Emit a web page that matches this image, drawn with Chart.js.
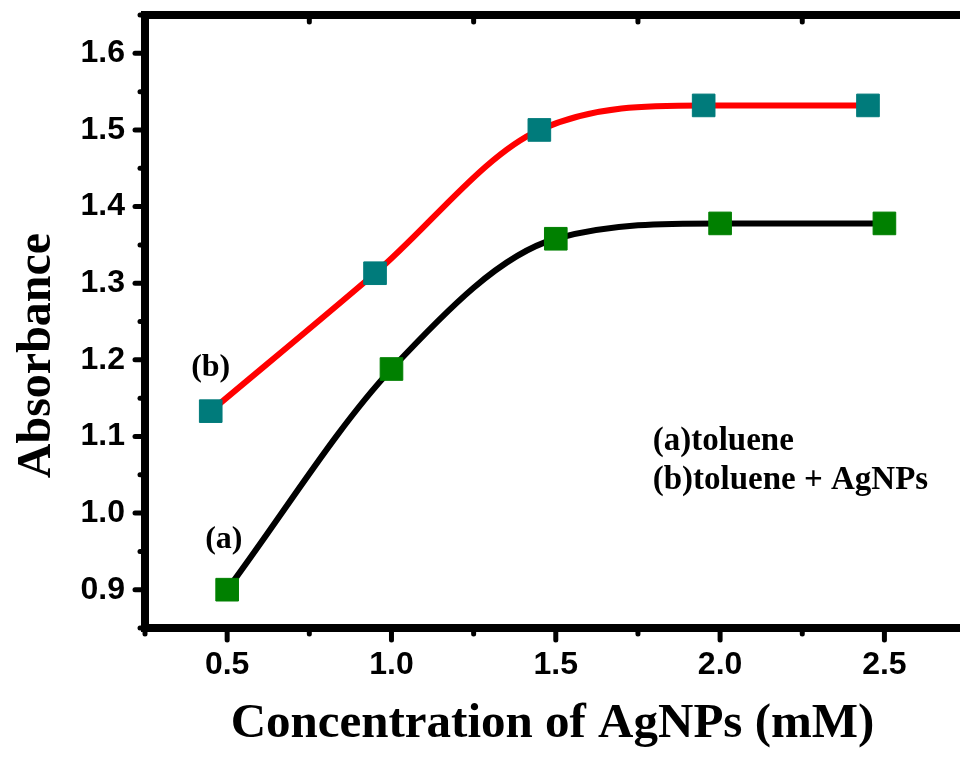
<!DOCTYPE html>
<html>
<head>
<meta charset="utf-8">
<script src="https://cdn.jsdelivr.net/npm/chart.js@4.4.1/dist/chart.umd.min.js"></script>
<style>
	html, body { margin: 0; padding: 0; background: #fff; overflow: hidden; }
	#chart { display: block; }
</style>
</head>
<body>
<canvas id="chart" width="960" height="758"></canvas>
<script>
// ── Data ────────────────────────────────────────────────────────────────────

const concToluene = [0.5, 1.0, 1.5, 2.0, 2.5]
const absToluene = [0.9, 1.188, 1.358, 1.378, 1.378]
const concAgNPs = [0.45, 0.95, 1.45, 1.95, 2.45]
const absAgNPs = [1.133, 1.313, 1.5, 1.532, 1.532]

const xMajorTicks = [0.5, 1.0, 1.5, 2.0, 2.5]
const xMinorTicks = [0.25, 0.75, 1.25, 1.75, 2.25]
const yMajorTicks = [0.9, 1.0, 1.1, 1.2, 1.3, 1.4, 1.5, 1.6]
const yMinorTicks = [0.85, 0.95, 1.05, 1.15, 1.25, 1.35, 1.45, 1.55, 1.65]

const legendLines = ['(a)toluene', '(b)toluene + AgNPs']

const SERIF = "'Liberation Serif', 'Times New Roman', serif"
const SANS = "'Liberation Sans', Arial, sans-serif"

// ── Frame, ticks and labels ────────────────────────────────────────────────

const framePlugin = {
	id: 'frame',
	afterDraw(chart) {
		const { ctx, chartArea: a, scales } = chart
		const x = scales.x
		const y = scales.y
		ctx.save()
		ctx.strokeStyle = '#000'

		// top border line (the right edge of the frame is cut off in the picture)
		ctx.lineWidth = 8
		ctx.lineCap = 'butt'
		ctx.beginPath()
		ctx.moveTo(a.left - 4, a.top)
		ctx.lineTo(a.right, a.top)
		ctx.stroke()

		ctx.lineWidth = 5
		ctx.lineCap = 'round'
		const tick = (x1, y1, x2, y2) => {
			ctx.beginPath()
			ctx.moveTo(x1, y1)
			ctx.lineTo(x2, y2)
			ctx.stroke()
		}
		xMajorTicks.forEach(v => {
			const px = x.getPixelForValue(v)
			tick(px, a.bottom, px, a.bottom + 12)
		})
		xMinorTicks.forEach(v => {
			const px = x.getPixelForValue(v)
			tick(px, a.bottom, px, a.bottom + 6)
			tick(px, a.top, px, a.top + 7)
		})
		yMajorTicks.forEach(v => {
			const py = y.getPixelForValue(v)
			tick(a.left, py, a.left - 10, py)
		})
		yMinorTicks.forEach(v => {
			const py = y.getPixelForValue(v)
			tick(a.left, py, a.left - 5, py)
		})

		// y axis title
		ctx.fillStyle = '#000'
		ctx.save()
		ctx.translate(50, (a.top + a.bottom) / 2 + 34)
		ctx.rotate(-Math.PI / 2)
		ctx.font = `bold 48px ${SERIF}`
		ctx.textAlign = 'center'
		ctx.textBaseline = 'alphabetic'
		ctx.fillText('Absorbance', 0, 0)
		ctx.restore()

		// curve labels
		ctx.font = `bold 32px ${SERIF}`
		ctx.textAlign = 'center'
		ctx.textBaseline = 'middle'
		ctx.fillText('(b)', x.getPixelForValue(0.45), y.getPixelForValue(1.19))
		ctx.fillText('(a)', x.getPixelForValue(0.49), y.getPixelForValue(0.965))

		// legend text
		ctx.font = `bold 33px ${SERIF}`
		ctx.textAlign = 'left'
		ctx.textBaseline = 'alphabetic'
		legendLines.forEach((t, i) => {
			ctx.fillText(t, x.getPixelForValue(1.795), 450 + i * 39)
		})
		ctx.restore()
	},
}

// ── Chart ───────────────────────────────────────────────────────────────────

const ctx = document.getElementById('chart').getContext('2d')
const chart = new Chart(ctx, {
	type: 'line',
	data: {
		datasets: [
			{
				label: '(a) toluene',
				data: concToluene.map((c, i) => ({ x: c, y: absToluene[i] })),
				borderColor: '#000000',
				borderWidth: 6,
				cubicInterpolationMode: 'monotone',
				pointStyle: 'rect',
				pointRadius: 16,
				pointHoverRadius: 16,
				pointBackgroundColor: '#008000',
				pointBorderColor: '#008000',
				pointBorderWidth: 1,
			},
			{
				label: '(b) toluene + AgNPs',
				data: concAgNPs.map((c, i) => ({ x: c, y: absAgNPs[i] })),
				borderColor: '#ff0000',
				borderWidth: 6,
				cubicInterpolationMode: 'monotone',
				pointStyle: 'rect',
				pointRadius: 16,
				pointHoverRadius: 16,
				pointBackgroundColor: '#007b7b',
				pointBorderColor: '#007b7b',
				pointBorderWidth: 1,
			},
		],
	},
	options: {
		responsive: false,
		animation: false,
		// no automatic padding for the big markers: the frame runs off the right edge
		layout: { autoPadding: false, padding: { top: 15, right: 0, left: 0, bottom: 0 } },
		scales: {
			x: {
				type: 'linear',
				min: 0.25,
				max: 2.73,
				afterFit: s => {
					s.height = 130
					s.paddingLeft = 0
					s.paddingRight = 0
				},
				afterBuildTicks: s => { s.ticks = xMajorTicks.map(v => ({ value: v })) },
				ticks: {
					padding: 18,
					color: '#000',
					font: { family: SANS, size: 32, weight: 'bold' },
					callback: v => v.toFixed(1),
				},
				grid: { drawOnChartArea: false, drawTicks: false },
				border: { display: true, width: 8, color: '#000' },
				title: {
					display: true,
					text: 'Concentration of AgNPs (mM)',
					color: '#000',
					font: { family: SERIF, size: 49, weight: 'bold' },
					padding: { top: 0, bottom: 4 },
				},
			},
			y: {
				min: 0.85,
				max: 1.65,
				afterFit: s => {
					s.width = 145
					s.paddingTop = 0
					s.paddingBottom = 0
				},
				afterBuildTicks: s => { s.ticks = yMajorTicks.map(v => ({ value: v })) },
				ticks: {
					padding: 20,
					color: '#000',
					font: { family: SANS, size: 32, weight: 'bold' },
					callback: v => v.toFixed(1),
				},
				grid: { drawOnChartArea: false, drawTicks: false },
				border: { display: true, width: 8, color: '#000' },
			},
		},
		plugins: {
			legend: { display: false },
			tooltip: { enabled: false },
		},
	},
	plugins: [framePlugin],
})
</script>
</body>
</html>
